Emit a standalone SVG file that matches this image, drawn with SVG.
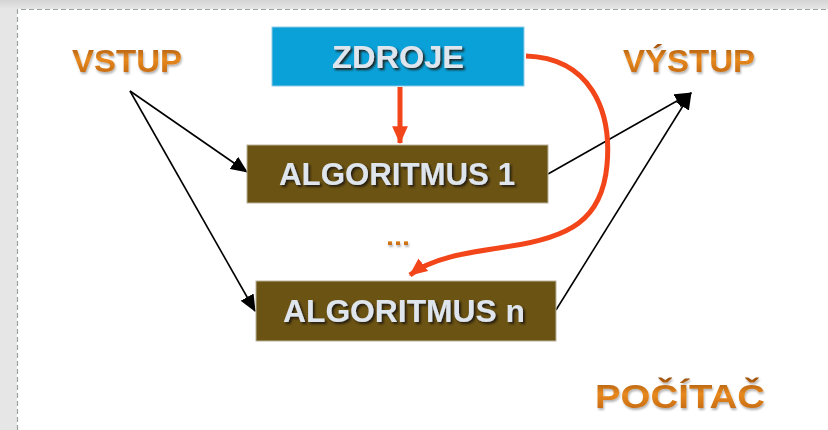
<svg xmlns="http://www.w3.org/2000/svg" width="828" height="430" viewBox="0 0 828 430">
  <defs>
    <linearGradient id="band" x1="0" y1="0" x2="0" y2="1">
      <stop offset="0" stop-color="#d4d4d4"/>
      <stop offset="1" stop-color="#e6e6e6"/>
    </linearGradient>
    <linearGradient id="orange" x1="0" y1="0" x2="0" y2="1">
      <stop offset="0" stop-color="#9a4e0c"/>
      <stop offset="0.45" stop-color="#e8891e"/>
      <stop offset="1" stop-color="#b9600f"/>
    </linearGradient>
    <filter id="soft" x="-10%" y="-20%" width="120%" height="150%">
      <feDropShadow dx="1" dy="2" stdDeviation="1.2" flood-color="#000" flood-opacity="0.3"/>
    </filter>
    <filter id="deep" x="-10%" y="-20%" width="120%" height="150%">
      <feDropShadow dx="2" dy="2" stdDeviation="1.2" flood-color="#1a1408" flood-opacity="0.9"/>
    </filter>
    <marker id="headBlack" viewBox="0 0 16 14" refX="15" refY="7" markerWidth="17" markerHeight="15" markerUnits="userSpaceOnUse" orient="auto">
      <path d="M0,0 L16,7 L0,14 Z" fill="#000"/>
    </marker>
    <marker id="headRed" viewBox="0 0 16 14" refX="15" refY="7" markerWidth="18" markerHeight="16" markerUnits="userSpaceOnUse" orient="auto">
      <path d="M0,0 L16,7 L0,14 Z" fill="#f2461a"/>
    </marker>
    <style>
      .lbl { font-family: "Liberation Sans", Arial, sans-serif; font-weight: bold; fill: url(#orange); filter: url(#soft); }
      .box-text { font-family: "Liberation Sans", Arial, sans-serif; font-weight: bold; fill: #dfe5ec; filter: url(#deep); }
      .flow { fill: none; stroke: #000; stroke-width: 1.6; marker-end: url(#headBlack); }
      .feed { fill: none; stroke: #f2461a; stroke-width: 5; marker-end: url(#headRed); }
    </style>
  </defs>

  <!-- page backdrop -->
  <rect x="0" y="0" width="828" height="430" fill="#e6e6e6"/>
  <rect x="0" y="0" width="828" height="9" fill="url(#band)"/>
  <rect x="17" y="9" width="811" height="421" fill="#ffffff"/>
  <path d="M17.5,430 V9.5 H828" fill="none" stroke="#9aa39c" stroke-width="1.2" stroke-dasharray="5 3"/>

  <!-- connectors -->
  <g id="connectors">
    <path class="flow" d="M130,91 L247,172"/>
    <path class="flow" d="M130,91 L255,311"/>
    <path class="flow" d="M548,174 L691,93"/>
    <path class="flow" d="M556,310 L691,93"/>
    <path class="feed" d="M400,87 V143"/>
    <path class="feed" d="M526,56 C590,58 612,110 607,165 C602,220 570,238 505,247 C465,253 432,258 410,275"/>
  </g>

  <g id="vstup">
    <text class="lbl" x="127" y="72" font-size="32" text-anchor="middle" textLength="110" lengthAdjust="spacingAndGlyphs">VSTUP</text>
  </g>

  <g id="vystup">
    <text class="lbl" x="689" y="72" font-size="32" text-anchor="middle" textLength="132" lengthAdjust="spacingAndGlyphs">VÝSTUP</text>
  </g>

  <g id="zdroje">
    <rect x="272" y="27" width="252" height="59" fill="#0aa0d8" stroke="#8fcbe6" stroke-width="1"/>
    <text class="box-text" x="398" y="68" font-size="32" text-anchor="middle" textLength="132" lengthAdjust="spacingAndGlyphs">ZDROJE</text>
  </g>

  <g id="algoritmus-1">
    <rect x="247" y="145" width="301" height="58" fill="#6b5314" stroke="#b9b49a" stroke-width="1"/>
    <text class="box-text" x="397" y="185" font-size="32" text-anchor="middle" textLength="236" lengthAdjust="spacingAndGlyphs">ALGORITMUS 1</text>
  </g>

  <g id="ellipsis">
    <text class="lbl" x="398" y="245" font-size="24" text-anchor="middle" textLength="24" lengthAdjust="spacingAndGlyphs">...</text>
  </g>

  <g id="algoritmus-n">
    <rect x="256" y="281" width="300" height="60" fill="#6b5314" stroke="#b9b49a" stroke-width="1"/>
    <text class="box-text" x="404" y="322" font-size="32" text-anchor="middle" textLength="242" lengthAdjust="spacingAndGlyphs">ALGORITMUS n</text>
  </g>

  <g id="pocitac">
    <text class="lbl" x="680" y="408" font-size="33" text-anchor="middle" textLength="170" lengthAdjust="spacingAndGlyphs">POČÍTAČ</text>
  </g>
</svg>
